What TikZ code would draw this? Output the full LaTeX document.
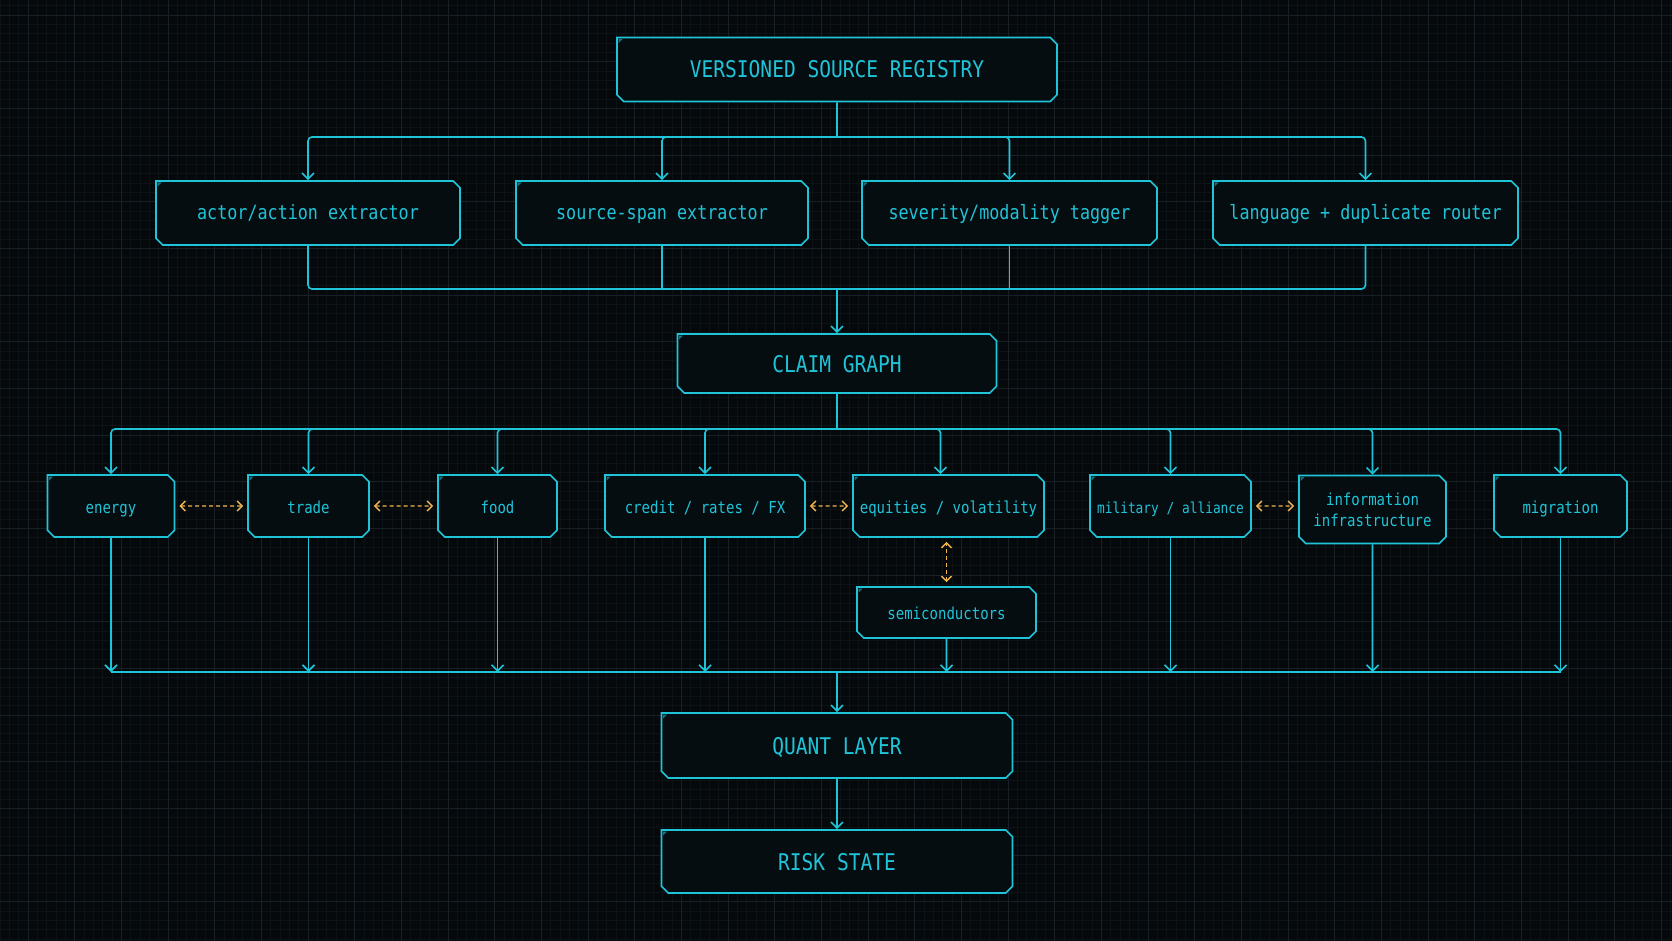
\documentclass[tikz,border=0pt]{standalone}
\usepackage{fontspec}
\setmonofont[FakeStretch=0.85]{DejaVu Sans Mono}
\usepackage{xcolor}
\usepackage{tikz}
\usetikzlibrary{shapes.misc,arrows.meta}
\definecolor{bg}{HTML}{05090C}
\definecolor{boxfill}{HTML}{060D11}
\definecolor{gridfine}{HTML}{0C1317}
\definecolor{gridmajor}{HTML}{172026}
\definecolor{wire}{HTML}{20C4D8}
\definecolor{amber}{HTML}{F2B552}
\tikzset{stage/.style={chamfered rectangle, chamfered rectangle corners={north east,south east,south west},
  chamfered rectangle sep=3.4pt, draw=wire, fill=boxfill, line width=1.6pt,
  text=wire, inner sep=0pt, align=center,
  path picture={\fill[wire!55!boxfill] ([xshift=1.5pt,yshift=-1.5pt]path picture bounding box.north west) -- ++(4pt,0pt) -- ++(-4pt,-4pt) -- cycle;}},
%font sizes for the three levels
big/.style={stage, font=\ttfamily\fontsize{23}{26}\selectfont, text height=17pt, text depth=0pt},
mid/.style={stage, font=\ttfamily\fontsize{19.7}{22}\selectfont, minimum height=64pt, text height=15pt, text depth=1pt},
small/.style={stage, font=\ttfamily\fontsize{16.5}{21}\selectfont, minimum height=62pt, text height=14pt, text depth=0pt},
link/.style={draw=wire, line width=1.6pt, rounded corners=4pt},
arr/.style={link, -{Straight Barb[length=6pt,width=12pt]}},
pair/.style={draw=amber, line width=1.4pt, dash pattern=on 4pt off 3pt,
  {Straight Barb[length=5pt,width=10pt]}-{Straight Barb[length=5pt,width=10pt]}, shorten <=4pt, shorten >=4pt}}

\begin{document}
\begin{tikzpicture}[x=1pt, y=-1pt]
\fill[bg] (0,0) rectangle (1672,941);
\useasboundingbox (0,0) rectangle (1672,941);
% background grid
\foreach \k in {-3,...,176} \draw[gridfine, line width=0.6pt] ({28+9.3333*\k},0) -- ({28+9.3333*\k},941);
\foreach \k in {-1,...,99} \draw[gridfine, line width=0.6pt] (0,{15+9.3333*\k}) -- (1672,{15+9.3333*\k});
\foreach \k in {0,...,35} \draw[gridmajor, line width=0.8pt] ({28+46.667*\k},0) -- ({28+46.667*\k},941);
\foreach \k in {0,...,20} \draw[gridmajor, line width=0.8pt] (0,{15+46.667*\k}) -- (1672,{15+46.667*\k});

% registry and extractors
\node[big, minimum width=440pt, minimum height=64pt] (registry) at (837,69.5) {VERSIONED SOURCE REGISTRY};
\node[mid, minimum width=304pt] (actor) at (308,213) {actor/action extractor};
\node[mid, minimum width=292pt] (span) at (662,213) {source-span extractor};
\node[mid, minimum width=295pt] (severity) at (1009.5,213) {severity/modality tagger};
\node[mid, minimum width=305pt] (router) at (1365.5,213) {language + duplicate router};
\node[big, minimum width=319pt, minimum height=59pt] (claim) at (837,363.5) {CLAIM GRAPH};

% domains
\node[small, minimum width=127pt] (energy) at (111,506) {energy};
\node[small, minimum width=121pt] (trade) at (308.5,506) {trade};
\node[small, minimum width=119pt] (food) at (497.5,506) {food};
\node[small, minimum width=200pt] (credit) at (705,506) {credit / rates / FX};
\node[small, minimum width=191pt] (equities) at (948.5,506) {equities / volatility};
\node[small, minimum width=161pt, font=\ttfamily\fontsize{15.1}{20}\selectfont] (military) at (1170.5,506) {military / alliance};
\node[small, minimum width=147pt, minimum height=68pt, text height=, text depth=] (infra) at (1372.5,509.5) {information\\infrastructure};
\node[small, minimum width=133pt] (migration) at (1560.5,506) {migration};
\node[small, minimum width=179pt, minimum height=51pt] (semis) at (946.5,612.5) {semiconductors};

\node[big, minimum width=351pt, minimum height=65pt] (quant) at (837,745.5) {QUANT LAYER};
\node[big, minimum width=351pt, minimum height=63pt] (risk) at (837,861.5) {RISK STATE};

% buses
\coordinate (fanout) at (837,137);
\coordinate (fanin) at (837,289);
\coordinate (split) at (837,429);
\coordinate (merge) at (837,672);

\draw[link] (registry) -- (fanout);
\foreach \n in {actor,span,severity,router} \draw[arr] (fanout) -| (\n);
\draw[link] (actor) |- (fanin);
\draw[link] (router) |- (fanin);
\draw[link] (span) -- (span |- fanin);
\draw[link] (severity) -- (severity |- fanin);
\draw[arr] (fanin) -- (claim);

\draw[link] (claim) -- (split);
\foreach \n in {energy,trade,food,credit,military,infra,migration} \draw[arr] (split) -| (\n);
\draw[arr] (split) -| ([xshift=-8pt]equities.north);

\foreach \n in {energy,trade,food,credit,military,infra,migration,semis} \draw[arr] (\n) -- (\n |- merge);
\draw[link] (energy |- merge) -- (migration |- merge);
\draw[arr] (merge) -- (quant);
\draw[arr] (quant) -- (risk);

% cross-domain couplings
\draw[pair] (energy) -- (trade);
\draw[pair] (trade) -- (food);
\draw[pair] (credit) -- (equities);
\draw[pair] (military) -- (military -| infra.west);
\draw[pair] (semis.north) -- (semis.north |- equities.south);
\end{tikzpicture}
\end{document}
